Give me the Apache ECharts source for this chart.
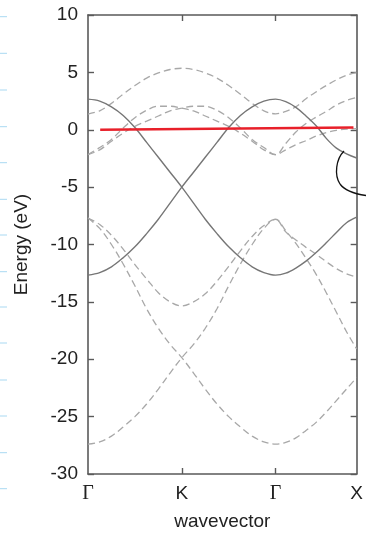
<!DOCTYPE html>
<html>
<head>
<meta charset="utf-8">
<script src="https://cdn.jsdelivr.net/npm/echarts@6/dist/echarts.min.js"></script>
<style>
html,body{margin:0;padding:0;background:#fff;}
#c{width:366px;height:537px;}
</style>
</head>
<body>
<div id="c"></div>
<script>
// k-path sample positions (Γ=0, K=1, Γ=2, X=2.864)
const kGrid = [0,0.125,0.25,0.375,0.5,0.625,0.75,0.875,1,1.125,1.25,1.375,1.5,1.625,1.75,1.875,2,
               2.108,2.216,2.324,2.432,2.540,2.648,2.756,2.864];
const xTickValues = [0,1,2,2.864];
const xTickLabels = ['Γ','K','Γ','X'];
const yMin = -30, yMax = 10, yStep = 5;

// solid bands (eV)
const solidBand1 = [2.67,2.5,2.0,1.25,0.2,-1.1,-2.4,-3.7,-5.0,-6.4,-7.8,-9.05,-10.2,-11.15,-11.95,-12.45,-12.67,
                    -12.5,-12.05,-11.45,-10.7,-9.85,-8.95,-8.1,-7.62];
const solidBand2 = [-12.67,-12.45,-11.95,-11.15,-10.2,-9.05,-7.8,-6.4,-5.0,-3.7,-2.4,-1.1,0.2,1.25,2.0,2.5,2.67,
                    2.45,1.95,1.2,0.35,-0.75,-1.6,-2.1,-2.46];
// dashed bands (eV)
const dashBand1 = [1.37,1.65,2.3,3.1,3.85,4.5,4.95,5.25,5.36,5.25,4.95,4.5,3.85,3.1,2.3,1.65,1.39,
                   1.6,2.0,2.7,3.3,3.85,4.35,4.75,4.98];
const dashBand2 = [-2.17,-1.55,-0.85,0.15,1.05,1.7,2.05,2.05,1.88,1.65,1.2,0.75,0.3,-0.3,-1.0,-1.75,-2.17,
                   -1.2,-0.2,0.55,1.1,1.6,2.15,2.55,2.81];
const dashBand3 = [-2.17,-1.75,-1.0,-0.3,0.3,0.75,1.2,1.65,1.88,2.05,2.05,1.7,1.05,0.15,-0.85,-1.55,-2.17,
                   -1.75,-1.3,-0.95,-0.55,-0.25,-0.05,0.05,0.09];
const dashBand4 = [-7.7,-8.25,-9.2,-10.4,-11.75,-13.0,-14.2,-15.0,-15.36,-15.0,-14.3,-13.2,-11.9,-10.55,-9.3,-8.35,-7.8,
                   -8.9,-9.6,-10.25,-10.85,-11.5,-12.1,-12.55,-12.84];
const dashBand5 = [-7.7,-8.6,-10.0,-11.7,-13.6,-15.6,-17.3,-18.7,-19.86,-21.2,-22.6,-23.9,-25.0,-25.9,-26.7,-27.2,-27.4,
                   -27.25,-26.85,-26.2,-25.5,-24.6,-23.6,-22.6,-21.6];
const dashBand6 = [-27.4,-27.2,-26.7,-25.9,-25.0,-23.9,-22.6,-21.2,-19.86,-18.7,-17.3,-15.6,-13.6,-11.7,-10.0,-8.6,-7.8,
                   -8.8,-9.9,-11.2,-12.6,-14.2,-15.9,-17.6,-19.1];
// red annotation line (k, eV)
const fermiK = [0.13, 2.83];
const fermiE = [0.0, 0.2];

const solidBands = [solidBand1, solidBand2];
const dashBands = [dashBand1, dashBand2, dashBand3, dashBand4, dashBand5, dashBand6];

const FONT = '"Liberation Sans", Arial, Helvetica, sans-serif';
const AXC = '#5a5a5a';

function bandSeries(vals, dashed) {
  return {
    type: 'line',
    xAxisIndex: 0, yAxisIndex: 0,
    data: kGrid.map((k, i) => [k, vals[i]]),
    showSymbol: false, symbol: 'none',
    smooth: 0.35,
    lineStyle: dashed ? {color: '#a8a8a8', width: 1.3, type: [7, 4]} : {color: '#767676', width: 1.4},
    silent: true, z: dashed ? 2 : 3
  };
}

const series = [];
dashBands.forEach(b => series.push(bandSeries(b, true)));
solidBands.forEach(b => series.push(bandSeries(b, false)));
series.push({
  type: 'line', xAxisIndex: 0, yAxisIndex: 0,
  data: fermiK.map((k, i) => [k, fermiE[i]]),
  showSymbol: false, symbol: 'none',
  lineStyle: {color: '#e8202a', width: 2.6}, z: 5, silent: true
});

// decorative marks on the left edge
const blueMarks = [16.7,53.3,90,126.7,162.7,199.3,235,271.7,307,343,380,416,452.7,488.7];
const graphic = blueMarks.map(y => ({
  type: 'line', shape: {x1: 0, y1: y, x2: 7, y2: y},
  style: {stroke: '#a9d9f2', lineWidth: 1}, silent: true
}));
graphic.push({
  type: 'bezierCurve', silent: true, z: 10,
  shape: {x1: 344, y1: 151, cpx1: 336, cpy1: 159, cpx2: 334, cpy2: 175, x2: 340, y2: 184},
  style: {stroke: '#111', lineWidth: 1.3, fill: null}
});
graphic.push({
  type: 'bezierCurve', silent: true, z: 10,
  shape: {x1: 340, y1: 184, cpx1: 345, cpy1: 191, cpx2: 356, cpy2: 194, x2: 366, y2: 195.5},
  style: {stroke: '#111', lineWidth: 1.3, fill: null}
});

function xLabel(v) {
  let idx = 0, best = 1e9;
  xTickValues.forEach((t, i) => { const d = Math.abs(t - v); if (d < best) { best = d; idx = i; } });
  const s = xTickLabels[idx];
  return s === 'Γ' ? '{g|Γ}' : '{t|' + s + '}';
}

const axisLineStyle = {show: true, onZero: false, lineStyle: {color: AXC, width: 1.6}};

const chart = echarts.init(document.getElementById('c'), null, {renderer: 'canvas'});
chart.setOption({
  animation: false,
  backgroundColor: '#fff',
  grid: {left: 88, right: 8, top: 15, bottom: 63, containLabel: false},
  xAxis: [{
    type: 'value', min: xTickValues[0], max: xTickValues[3], position: 'bottom',
    name: 'wavevector', nameLocation: 'middle', nameGap: 38,
    nameTextStyle: {fontFamily: FONT, fontSize: 19, color: '#222'},
    axisLine: axisLineStyle,
    axisTick: {show: true, inside: true, length: 6, customValues: [xTickValues[1], xTickValues[2]], lineStyle: {color: AXC, width: 1.4}},
    axisLabel: {
      customValues: xTickValues, margin: 10, formatter: xLabel,
      rich: {
        g: {fontFamily: '"Liberation Serif", "DejaVu Serif", serif', fontSize: 20, color: '#222'},
        t: {fontFamily: FONT, fontSize: 19, color: '#222'}
      }
    },
    splitLine: {show: false}
  }, {
    type: 'value', min: xTickValues[0], max: xTickValues[3], position: 'top',
    axisLine: axisLineStyle,
    axisTick: {show: true, inside: true, length: 6, customValues: [xTickValues[1], xTickValues[2]], lineStyle: {color: AXC, width: 1.4}},
    axisLabel: {show: false}, splitLine: {show: false}
  }],
  yAxis: [{
    type: 'value', min: yMin, max: yMax, interval: yStep, position: 'left',
    name: 'Energy (eV)', nameLocation: 'middle', nameGap: 57,
    nameTextStyle: {fontFamily: FONT, fontSize: 19, color: '#222'},
    axisLine: axisLineStyle,
    axisTick: {show: true, inside: true, length: 6, lineStyle: {color: AXC, width: 1.4}},
    axisLabel: {fontFamily: FONT, fontSize: 19, color: '#222', margin: 10},
    splitLine: {show: false}
  }, {
    type: 'value', min: yMin, max: yMax, interval: yStep, position: 'right',
    axisLine: axisLineStyle,
    axisTick: {show: true, inside: true, length: 6, lineStyle: {color: AXC, width: 1.4}},
    axisLabel: {show: false}, splitLine: {show: false}
  }],
  series: series,
  graphic: graphic
});
</script>
</body>
</html>
